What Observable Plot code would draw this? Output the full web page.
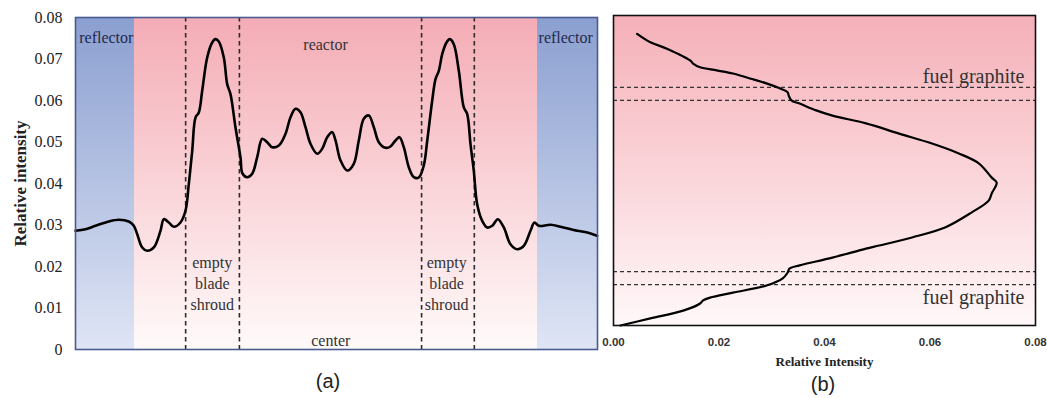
<!DOCTYPE html>
<html><head><meta charset="utf-8">
<script src="https://cdn.jsdelivr.net/npm/d3@7"></script>
<script src="https://cdn.jsdelivr.net/npm/@observablehq/plot@0.6"></script>
<style>
body{margin:0;background:#fff;}
#wrap{position:relative;width:1047px;height:398px;overflow:hidden;}
#a{position:absolute;left:0;top:0;}
#b{position:absolute;left:605px;top:0;}
.cap{position:absolute;font-family:"Liberation Sans",Arial,sans-serif;font-size:20px;color:#222;transform:translate(-50%,-50%);}
#a g[aria-label="y-axis label"] text, #a g[aria-label="y-axis label"]{font-weight:bold;font-size:17px;}
#b g[aria-label="x-axis label"] text, #b g[aria-label="x-axis label"]{font-weight:bold;font-size:13px;font-family:"Liberation Serif",serif;fill:#222;}
#b g[aria-label="x-axis tick label"]{font-family:"Liberation Sans",Arial,sans-serif;font-weight:bold;font-size:11.5px;}
</style></head>
<body><div id="wrap"><div id="a"></div><div id="b"></div>
<div class="cap" style="left:328px;top:381px">(a)</div>
<div class="cap" style="left:823px;top:384px">(b)</div></div>
<script>
// ---------- (a) radial profile ----------
const radialPos = [0,1.92,3.83,6.38,8.29,10.21,11.17,11.82,12.78,13.74,15.00,16.28,16.92,17.87,18.83,20.11,21.07,21.70,22.36,22.99,23.62,24.27,25.23,26.19,26.82,27.45,28.41,29.06,29.69,30.65,31.61,31.99,32.89,33.85,34.81,35.77,36.72,37.68,38.95,40.23,41.19,42.15,43.10,44.06,45.02,46.30,47.26,48.22,49.18,49.81,50.77,52.05,53.31,54.27,55.23,56.19,57.15,58.10,59.39,60.34,61.30,62.07,62.89,63.85,64.81,65.77,66.72,67.38,68.33,68.97,69.60,70.25,71.07,71.71,72.47,73.43,74.39,75.04,75.67,76.30,76.95,77.91,78.87,79.83,80.90,82.05,83.33,84.62,85.88,87.16,87.93,88.75,91.00,92.91,96.11,98.03,99.94];
const radialIntensity = [0.02860,0.02899,0.02981,0.03084,0.03125,0.03084,0.02981,0.02778,0.02458,0.02378,0.02458,0.02860,0.03140,0.03061,0.02957,0.03061,0.03343,0.03984,0.04789,0.05591,0.05711,0.06234,0.07037,0.07398,0.07478,0.07422,0.07037,0.06394,0.06153,0.05350,0.04627,0.04241,0.04152,0.04234,0.04634,0.05078,0.04996,0.04875,0.04916,0.05198,0.05598,0.05801,0.05719,0.05357,0.04957,0.04716,0.04837,0.05116,0.05237,0.05037,0.04555,0.04314,0.04475,0.05037,0.05560,0.05639,0.05357,0.04996,0.04861,0.04892,0.05037,0.05116,0.04875,0.04393,0.04152,0.04145,0.04434,0.05030,0.05994,0.06514,0.06716,0.07116,0.07398,0.07478,0.07357,0.06716,0.05832,0.05671,0.04948,0.04306,0.03501,0.03101,0.02940,0.02981,0.03140,0.02940,0.02538,0.02417,0.02499,0.02860,0.03060,0.02981,0.03005,0.02957,0.02860,0.02820,0.02740];
const regionNames = ["reflector","reactor","reflector"];
const regionStart = [0, 11.3, 88.5];
const regionEnd = [11.3, 88.5, 100];
const shroudLines = [21.1, 31.4, 66.3, 76.4];
const yTicks = [0,0.01,0.02,0.03,0.04,0.05,0.06,0.07,0.08];
const yTickLabels = ["0","0.01","0.02","0.03","0.04","0.05","0.06","0.07","0.08"];
const labelsA = ["reflector","reactor","reflector","empty\nblade\nshroud","empty\nblade\nshroud","center"];
const labelsAX = [5.9, 47.9, 93.9, 26.2, 71.1, 48.9];
const labelsAY = [0.0750, 0.0737, 0.0750, 0.0162, 0.0162, 0.0024];

// ---------- (b) axial profile ----------
const axialIntensity = [0.00447,0.00698,0.01013,0.01453,0.01509,0.01642,0.01957,0.02264,0.02585,0.02900,0.03151,0.03302,0.03321,0.03372,0.03528,0.03843,0.04151,0.04787,0.05415,0.06038,0.06547,0.06925,0.07170,0.07264,0.07170,0.07113,0.06792,0.06296,0.05660,0.05038,0.04787,0.04151,0.03528,0.03340,0.03302,0.03208,0.02900,0.02264,0.01830,0.01698,0.01642,0.01321,0.00698,0.00132];
const axialHeight = [94.1,91.4,89.3,85.5,84.5,83.3,82.3,81.3,79.7,78.1,76.5,75.2,74.2,72.6,71.6,69.4,67.7,65.2,61.9,58.7,55.5,52.3,47.7,46.1,42.6,40.3,36.5,31.7,28.4,25.8,24.8,21.9,19.4,18.4,17.1,15.2,12.9,10.6,9.0,8.1,7.1,4.8,2.3,0];
const graphiteLines = [76.8, 72.6, 17.4, 13.2];
const xTicks = [0,0.02,0.04,0.06,0.08];
const xTickLabels = ["0.00","0.02","0.04","0.06","0.08"];
const labelsB = ["fuel graphite","fuel graphite"];
const labelsBX = [0.0779, 0.0779];
const labelsBY = [80.3, 9.0];

function gradDefs(list){
  return () => {
    const d = d3.create("svg:defs");
    for (const [id,c0,c1] of list){
      const lg = d.append("linearGradient").attr("id",id).attr("x1",0).attr("y1",0).attr("x2",0).attr("y2",1);
      lg.append("stop").attr("offset","0%").attr("stop-color",c0);
      lg.append("stop").attr("offset","100%").attr("stop-color",c1);
    }
    return d.node();
  };
}

const regions = regionNames.map((n,i)=>({n, x1:regionStart[i], x2:regionEnd[i], y1:0, y2:0.08}));
const radial = radialPos.map((x,i)=>({x, y:radialIntensity[i]}));
const annA = labelsA.map((t,i)=>({t, x:labelsAX[i], y:labelsAY[i]}));
const tickMap = new Map(yTicks.map((v,i)=>[v,yTickLabels[i]]));

const chartA = Plot.plot({
  width:605, height:360, marginLeft:75, marginRight:8, marginTop:17, marginBottom:11,
  x:{domain:[0,100]},
  y:{domain:[0,0.08]},
  style:{fontFamily:"'Liberation Serif','Times New Roman',serif", fontSize:"16px", color:"#222", background:"transparent", overflow:"visible"},
  marks:[
    gradDefs([["gBlueA","#8b9fd0","#dfe5f5"],["gPinkA","#f4acb5","#fffafa"]]),
    Plot.rect(regions.filter(d=>d.n==="reflector"), {x1:"x1",x2:"x2",y1:"y1",y2:"y2",fill:"url(#gBlueA)"}),
    Plot.rect(regions.filter(d=>d.n==="reactor"), {x1:"x1",x2:"x2",y1:"y1",y2:"y2",fill:"url(#gPinkA)"}),
    Plot.ruleX(shroudLines, {stroke:"#2b2b2b", strokeWidth:1.6, strokeDasharray:"4.5,3.5"}),
    Plot.line(radial, {x:"x", y:"y", stroke:"#000", strokeWidth:2.6, curve:"catmull-rom"}),
    Plot.text(annA.filter(d=>d.t==="reflector"), {x:"x", y:"y", text:"t", fill:"#1f2a4e", fontSize:16}),
    Plot.text(annA.filter(d=>d.t!=="reflector"), {x:"x", y:"y", text:"t", fill:"#333", fontSize:16, lineHeight:1.3}),
    Plot.axisY({ticks:yTicks, tickFormat:d=>tickMap.get(d), tickSize:0, tickPadding:13, label:"Relative intensity", labelAnchor:"center", labelOffset:62, labelArrow:"none"}),
    Plot.axisX({ticks:[], label:null}),
    Plot.frame({stroke:"#4a5b92", strokeWidth:1.6})
  ]
});
document.getElementById("a").append(chartA);

const axial = axialIntensity.map((x,i)=>({x, y:axialHeight[i]}));
const annB = labelsB.map((t,i)=>({t, x:labelsBX[i], y:labelsBY[i]}));
const xTickMap = new Map(xTicks.map((v,i)=>[v,xTickLabels[i]]));

const chartB = Plot.plot({
  width:442, height:372, marginLeft:8, marginRight:12, marginTop:15, marginBottom:47,
  x:{domain:[0,0.08]},
  y:{domain:[0,100]},
  style:{fontFamily:"'Liberation Serif','Times New Roman',serif", fontSize:"12px", color:"#333", background:"transparent", overflow:"visible"},
  marks:[
    gradDefs([["gPinkB","#f5b0b8","#fff8f9"]]),
    Plot.frame({fill:"url(#gPinkB)", stroke:"none"}),
    Plot.ruleY(graphiteLines, {stroke:"#333", strokeWidth:1.3, strokeDasharray:"4,3"}),
    Plot.line(axial, {x:"x", y:"y", stroke:"#000", strokeWidth:2.2, curve:"catmull-rom"}),
    Plot.text(annB, {x:"x", y:"y", text:"t", textAnchor:"end", fill:"#333", fontSize:20}),
    Plot.axisX({ticks:xTicks, tickFormat:d=>xTickMap.get(d), tickSize:0, tickPadding:12, label:"Relative Intensity", labelAnchor:"center", labelOffset:40, labelArrow:"none"}),
    Plot.axisY({ticks:[], label:null}),
    Plot.frame({stroke:"#111", strokeWidth:1.6})
  ]
});
document.getElementById("b").append(chartB);
</script>
</body></html>
